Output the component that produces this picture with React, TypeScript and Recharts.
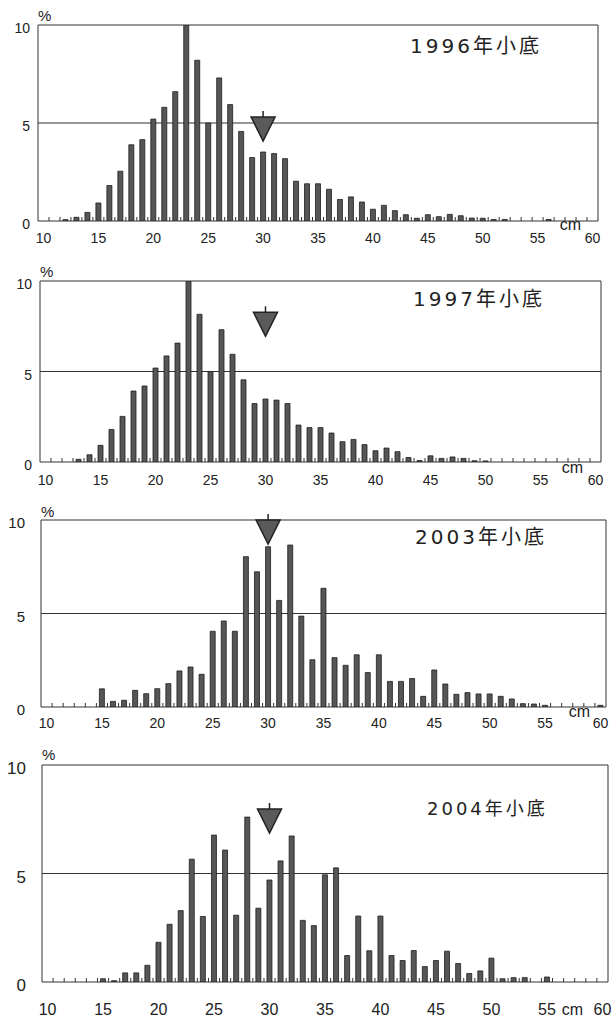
import React from 'react'
import { BarChart, Bar, XAxis, YAxis, CartesianGrid, ReferenceDot } from 'recharts'

// body length classes, cm
const lengths = [
  10, 11, 12, 13, 14, 15, 16, 17, 18, 19,
  20, 21, 22, 23, 24, 25, 26, 27, 28, 29,
  30, 31, 32, 33, 34, 35, 36, 37, 38, 39,
  40, 41, 42, 43, 44, 45, 46, 47, 48, 49,
  50, 51, 52, 53, 54, 55, 56, 57, 58, 59, 60,
]

// percent of catch per 1cm class
const pct1996 = [
  0, 0, 0.07, 0.19, 0.44, 0.92, 1.81, 2.54, 3.89, 4.15,
  5.2, 5.8, 6.6, 10, 8.2, 5.0, 7.3, 5.94, 4.57, 3.24,
  3.52, 3.44, 3.18, 2.03, 1.9, 1.9, 1.62, 1.1, 1.23, 0.97,
  0.6, 0.8, 0.53, 0.32, 0.14, 0.32, 0.22, 0.34, 0.27, 0.15,
  0.14, 0.08, 0.08, 0, 0, 0, 0.08, 0, 0, 0, 0,
]
const pct1997 = [
  0, 0, 0, 0.15, 0.4, 0.92, 1.8, 2.52, 3.92, 4.2,
  5.19, 5.86, 6.57, 10, 8.16, 5.0, 7.31, 5.95, 4.54, 3.23,
  3.48, 3.42, 3.23, 2.04, 1.9, 1.9, 1.6, 1.12, 1.25, 0.96,
  0.62, 0.77, 0.57, 0.25, 0.08, 0.34, 0.2, 0.28, 0.2, 0.07,
  0.06, 0, 0, 0, 0, 0, 0, 0, 0, 0, 0,
]
const pct2003 = [
  0, 0, 0, 0, 0, 0.97, 0.3, 0.36, 0.89, 0.71,
  0.98, 1.25, 1.93, 2.14, 1.75, 4.05, 4.6, 4.05, 8.04, 7.23,
  8.57, 5.7, 8.66, 4.86, 2.53, 6.35, 2.64, 2.23, 2.79, 1.84,
  2.79, 1.37, 1.37, 1.52, 0.57, 1.98, 1.23, 0.68, 0.77, 0.7,
  0.7, 0.57, 0.43, 0.18, 0.16, 0.09, 0, 0, 0, 0, 0.09,
]
const pct2004 = [
  0, 0, 0, 0, 0, 0.15, 0.06, 0.42, 0.42, 0.77,
  1.83, 2.66, 3.29, 5.66, 3.02, 6.77, 6.08, 3.08, 7.6, 3.4,
  4.7, 5.58, 6.73, 2.84, 2.6, 4.94, 5.26, 1.22, 3.04, 1.44,
  3.04, 1.22, 0.99, 1.45, 0.71, 0.99, 1.42, 0.85, 0.39, 0.51,
  1.1, 0.15, 0.2, 0.2, 0, 0.23, 0, 0, 0, 0, 0,
]

const titles = ['1996年小底', '1997年小底', '2003年小底', '2004年小底']
const series = [pct1996, pct1997, pct2003, pct2004]
// arrow (mean length) marker: x class and the height of its tip on the % axis
const arrowX = [30, 30, 30, 30]
const arrowY = [5.3, 8.27, 10, 7.97]
const xLabelTicks = [10, 15, 20, 25, 30, 35, 40, 45, 50, 55, 60]
const yTicks = [0, 5, 10]

const tickFont = '"Liberation Sans", Arial, sans-serif'
const titleFont = '"DejaVu Sans", "Noto Sans CJK JP", sans-serif'
const ink = '#222'

// layout of each panel on the page
const panels = [
  { top: 25, left: 38, right: 598, bottom: 221, lblDy: 22, fs: 14, yGap: 8, yFs: 14, yDy: 8, cmDx: -22, cmDy: 9, cmFs: 16, tx: 410, ty: 53, tfs: 20, tls: 3, pctY: 21 },
  { top: 281, left: 40, right: 601, bottom: 462, lblDy: 23, fs: 14, yGap: 8, yFs: 14, yDy: 8, cmDx: -23, cmDy: 11, cmFs: 16, tx: 413, ty: 306, tfs: 20, tls: 3, pctY: 277 },
  { top: 520, left: 41, right: 606, bottom: 707, lblDy: 21, fs: 14, yGap: 16, yFs: 15, yDy: 8, cmDx: -21, cmDy: 10, cmFs: 16, tx: 415, ty: 544, tfs: 20, tls: 3, pctY: 517 },
  { top: 765, left: 42, right: 608, bottom: 982, lblDy: 33, fs: 16, yGap: 16, yFs: 17, yDy: 9, cmDx: -30, cmDy: 33, cmFs: 16, tx: 427, ty: 815, tfs: 18, tls: 3, pctY: 760 },
]

function XTick(props: any) {
  const { x, y, payload, band, lblDy, fs, cmDx, cmDy, cmFs } = props
  const v = Number(payload.value)
  return (
    <g>
      {v < 60 && (
        <line x1={x + band / 2} x2={x + band / 2} y1={y} y2={y - 4} stroke="#333" strokeWidth={1} />
      )}
      {xLabelTicks.includes(v) && (
        <text x={x} y={y + lblDy} textAnchor="middle" fontSize={fs} fill={ink} fontFamily={tickFont}>
          {v}
        </text>
      )}
      {v === 60 && (
        <text x={x + cmDx} y={y + cmDy} textAnchor="middle" fontSize={cmFs} fill={ink} fontFamily={tickFont}>
          cm
        </text>
      )}
    </g>
  )
}

function YTick(props: any) {
  const { x, y, payload, yFs, yDy } = props
  return (
    <text x={x} y={y} dy={yDy} textAnchor="end" fontSize={yFs} fill={ink} fontFamily={tickFont}>
      {payload.value}
    </text>
  )
}

function ArrowMark(props: any) {
  const { cx, cy } = props
  if (cx == null || cy == null) return null
  return (
    <g>
      <line x1={cx} x2={cx} y1={cy - 6} y2={cy} stroke="#222" strokeWidth={1.5} />
      <polygon
        points={`${cx - 12},${cy} ${cx + 12},${cy} ${cx},${cy + 24}`}
        fill="#5a5a5a"
        stroke="#222"
        strokeWidth={1.5}
      />
    </g>
  )
}

function Panel({ idx }: { idx: number }) {
  const p = panels[idx]
  const data = lengths.map((cm, i) => ({ cm, pct: series[idx][i] }))
  const plotH = p.bottom - p.top
  const axisH = 36
  const height = 25 + plotH + axisH
  const band = (p.right - p.left) / lengths.length
  return (
    <div style={{ position: 'absolute', left: 0, top: p.top - 25 }}>
      <BarChart
        width={612}
        height={height}
        data={data}
        margin={{ top: 25, right: 612 - p.right, left: 0, bottom: 0 }}
      >
        <CartesianGrid
          stroke="#333"
          strokeWidth={1}
          verticalCoordinatesGenerator={({ offset }: any) => [offset.left, offset.left + offset.width]}
        />
        <XAxis
          dataKey="cm"
          type="category"
          interval={0}
          height={axisH}
          axisLine={false}
          tickLine={false}
          tickSize={0}
          tickMargin={0}
          tick={(tp: any) => (
            <XTick {...tp} band={band} lblDy={p.lblDy} fs={p.fs} cmDx={p.cmDx} cmDy={p.cmDy} cmFs={p.cmFs} />
          )}
        />
        <YAxis
          width={p.left}
          domain={[0, 10]}
          ticks={yTicks}
          allowDataOverflow
          axisLine={false}
          tickLine={false}
          tickSize={0}
          tickMargin={p.yGap}
          tick={(tp: any) => <YTick {...tp} yFs={p.yFs} yDy={p.yDy} />}
        />
        <Bar dataKey="pct" barSize={5} fill="#565656" stroke="#1e1e1e" strokeWidth={0.8} isAnimationActive={false} />
        <ReferenceDot
          x={arrowX[idx]}
          y={arrowY[idx]}
          r={0}
          ifOverflow="visible"
          shape={(sp: any) => <ArrowMark {...sp} />}
        />
      </BarChart>
    </div>
  )
}

export default function App() {
  return (
    <div style={{ position: 'absolute', left: 0, top: 0, width: 612, height: 1019, overflow: 'hidden', background: '#fff' }}>
      {panels.map((_, i) => (
        <Panel key={i} idx={i} />
      ))}
      <svg width={612} height={1019} style={{ position: 'absolute', left: 0, top: 0, pointerEvents: 'none' }}>
        {panels.map((p, i) => (
          <g key={i}>
            <text x={p.left} y={p.pctY} fontSize={15} fill={ink} fontFamily={tickFont}>
              %
            </text>
            <text x={p.tx} y={p.ty} fontSize={p.tfs} letterSpacing={p.tls} fill={ink} fontFamily={titleFont}>
              {titles[i]}
            </text>
          </g>
        ))}
      </svg>
    </div>
  )
}
